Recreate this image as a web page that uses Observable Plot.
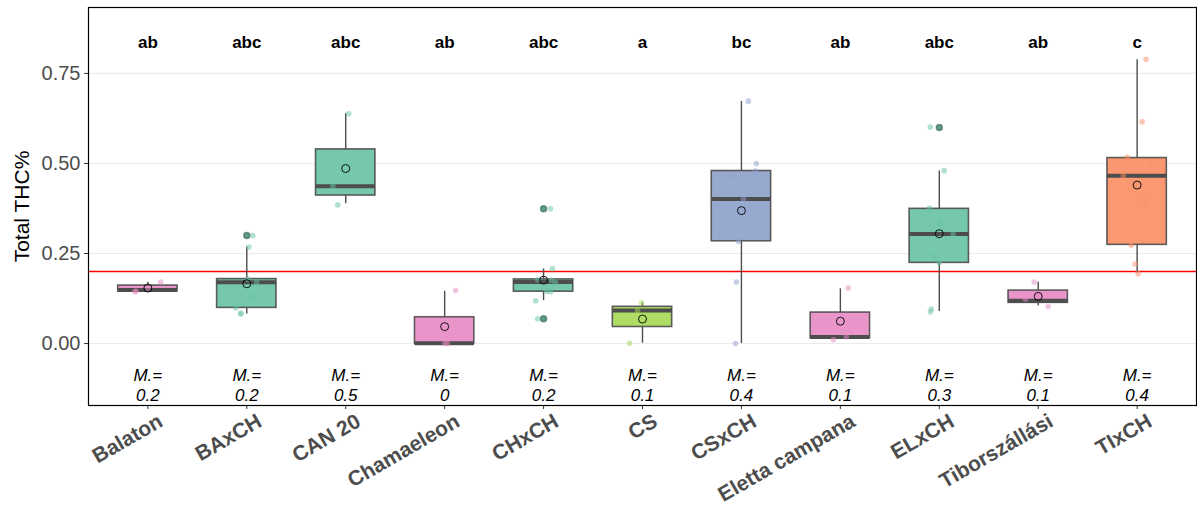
<!DOCTYPE html>
<html><head><meta charset="utf-8">
<script src="https://cdn.jsdelivr.net/npm/d3@7"></script>
<script src="https://cdn.jsdelivr.net/npm/@observablehq/plot@0.6"></script>
<style>
body{margin:0;background:#fff}
svg{font-family:"Liberation Sans",Arial,sans-serif}
</style>
</head><body><div id="chart"></div><script>
const categories = ["Balaton","BAxCH","CAN 20","Chamaeleon","CHxCH","CS","CSxCH","Eletta campana","ELxCH","Tiborszállási","TIxCH"];
const groupColors = ["#E78AC3","#66C2A5","#66C2A5","#E78AC3","#66C2A5","#A6D854","#8DA0CB","#E78AC3","#66C2A5","#E78AC3","#FC8D62"];
const letters = ["ab","abc","abc","ab","abc","a","bc","ab","abc","ab","c"];
const meanLabels = ["0.2","0.2","0.5","0","0.2","0.1","0.4","0.1","0.3","0.1","0.4"];

const q1          = [0.145,0.099,0.411,0.000,0.144,0.046,0.284,0.015,0.224,0.113,0.274];
const median      = [0.149,0.170,0.437,0.001,0.171,0.092,0.401,0.018,0.304,0.119,0.466];
const q3          = [0.161,0.179,0.539,0.073,0.178,0.102,0.479,0.086,0.374,0.147,0.515];
const whiskerLow  = [0.144,0.082,0.388,0.000,0.119,0.001,0.000,0.011,0.089,0.104,0.196];
const whiskerHigh = [0.170,0.268,0.638,0.145,0.207,0.113,0.672,0.152,0.479,0.170,0.788];
const means       = [0.154,0.166,0.486,0.047,0.176,0.068,0.369,0.062,0.305,0.131,0.440];

const pointValues = [
  [0.171,0.154,0.146,0.144],
  [0.300,0.268,0.179,0.171,0.131,0.099,0.085,0.082],
  [0.638,0.437,0.385],
  [0.147,0.000,0.000],
  [0.374,0.208,0.177,0.175,0.170,0.145,0.143,0.119,0.069],
  [0.113,0.092,0.001],
  [0.673,0.500,0.479,0.467,0.401,0.283,0.171,0.000],
  [0.154,0.018,0.011],
  [0.601,0.480,0.376,0.335,0.304,0.242,0.224,0.096,0.088],
  [0.171,0.131,0.123,0.103],
  [0.789,0.616,0.517,0.495,0.466,0.394,0.273,0.221,0.194]
];
const pointJitter = [
  [0.13,0.00,-0.12,-0.13],
  [0.06,0.02,0.01,0.10,0.05,-0.11,-0.06,-0.06],
  [0.03,-0.13,-0.08],
  [0.11,0.03,0.00],
  [0.07,0.09,-0.06,0.08,0.12,0.03,0.07,-0.08,-0.06],
  [-0.01,-0.05,-0.13],
  [0.07,0.15,0.14,-0.11,0.02,-0.03,-0.05,-0.06],
  [0.08,0.06,-0.07],
  [-0.09,0.05,-0.10,0.00,0.14,-0.05,0.00,-0.08,-0.09],
  [-0.04,0.00,-0.13,0.10],
  [0.09,0.05,-0.10,0.13,-0.14,0.08,-0.06,-0.02,0.01]
];
const outlierGroup = [1,4,4,8];
const outlierValue = [0.300,0.374,0.069,0.600];
const threshold = 0.2;
const yTicks = [0,0.25,0.5,0.75];

const groups = categories.map((c,i)=>({i,c,color:groupColors[i],q1:q1[i],med:median[i],q3:q3[i],lo:whiskerLow[i],hi:whiskerHigh[i],mean:means[i],letter:letters[i],mlab:"M.=\n"+meanLabels[i]}));
const points = pointValues.flatMap((vals,i)=>vals.map((v,k)=>({x:i+pointJitter[i][k],y:v,color:groupColors[i]})));
const outliers = outlierGroup.map((g,k)=>({x:g,y:outlierValue[k],color:groupColors[g]}));
const W = 0.3;
const dark = "#4D4D4D";

const plot = Plot.plot({
  width:1197, height:511,
  marginLeft:88, marginRight:1, marginTop:7, marginBottom:106,
  style:{fontFamily:'"Liberation Sans",Arial,sans-serif', background:"#fff"},
  x:{type:"linear", domain:[-0.6,10.6]},
  y:{domain:[-0.172,0.933]},
  marks:[
    Plot.gridY(yTicks,{stroke:"#EBEBEB",strokeOpacity:1,strokeWidth:1.1}),
    Plot.ruleY([threshold],{stroke:"red",strokeOpacity:1,strokeWidth:1.3}),
    Plot.ruleX(groups,{x:"i",y1:"q3",y2:"hi",stroke:dark,strokeWidth:1.4}),
    Plot.ruleX(groups,{x:"i",y1:"lo",y2:"q1",stroke:dark,strokeWidth:1.4}),
    Plot.rect(groups,{x1:d=>d.i-W,x2:d=>d.i+W,y1:"q1",y2:"q3",fill:d=>d.color,fillOpacity:0.9,stroke:dark,strokeOpacity:0.9,strokeWidth:1.6}),
    Plot.ruleY(groups,{y:"med",x1:d=>d.i-W,x2:d=>d.i+W,stroke:dark,strokeWidth:4}),
    Plot.dot(outliers,{x:"x",y:"y",fill:d=>d.color,stroke:"#2f5f50",strokeOpacity:0.6,r:3}),
    Plot.dot(outliers,{x:"x",y:"y",fill:dark,fillOpacity:0.3,r:2.8}),
    Plot.dot(points,{x:"x",y:"y",fill:d=>d.color,fillOpacity:0.5,r:2.8}),
    Plot.dot(groups,{x:"i",y:"mean",stroke:"black",strokeWidth:0.9,fill:"none",r:4}),
    Plot.text(groups,{x:"i",y:()=>0.836,text:"letter",fontWeight:"bold",fontSize:17,fill:"black"}),
    Plot.text(groups,{x:"i",y:()=>-0.114,text:"mlab",fontStyle:"italic",fontSize:17,lineHeight:1.15,fill:"black"}),
    Plot.axisY(yTicks,{tickFormat:d3.format(".2f"),fontSize:20,fill:dark,stroke:"#333",tickSize:4,tickPadding:4,label:null}),
    Plot.axisX(d3.range(11),{tickFormat:()=>"",stroke:"#333",tickSize:4,label:null}),
    Plot.axisX(d3.range(11),{tickFormat:i=>categories[i],tickRotate:-30,fontSize:21,fontWeight:"bold",fill:dark,tickSize:0,tickPadding:7,dx:13,dy:7,label:null}),
    Plot.text(["Total THC%"],{frameAnchor:"left",textAnchor:"middle",rotate:-90,dx:-66,fontSize:21,fill:"black"}),
    Plot.frame({stroke:"black",strokeWidth:1.2})
  ]
});
document.getElementById("chart").appendChild(plot);
</script></body></html>
